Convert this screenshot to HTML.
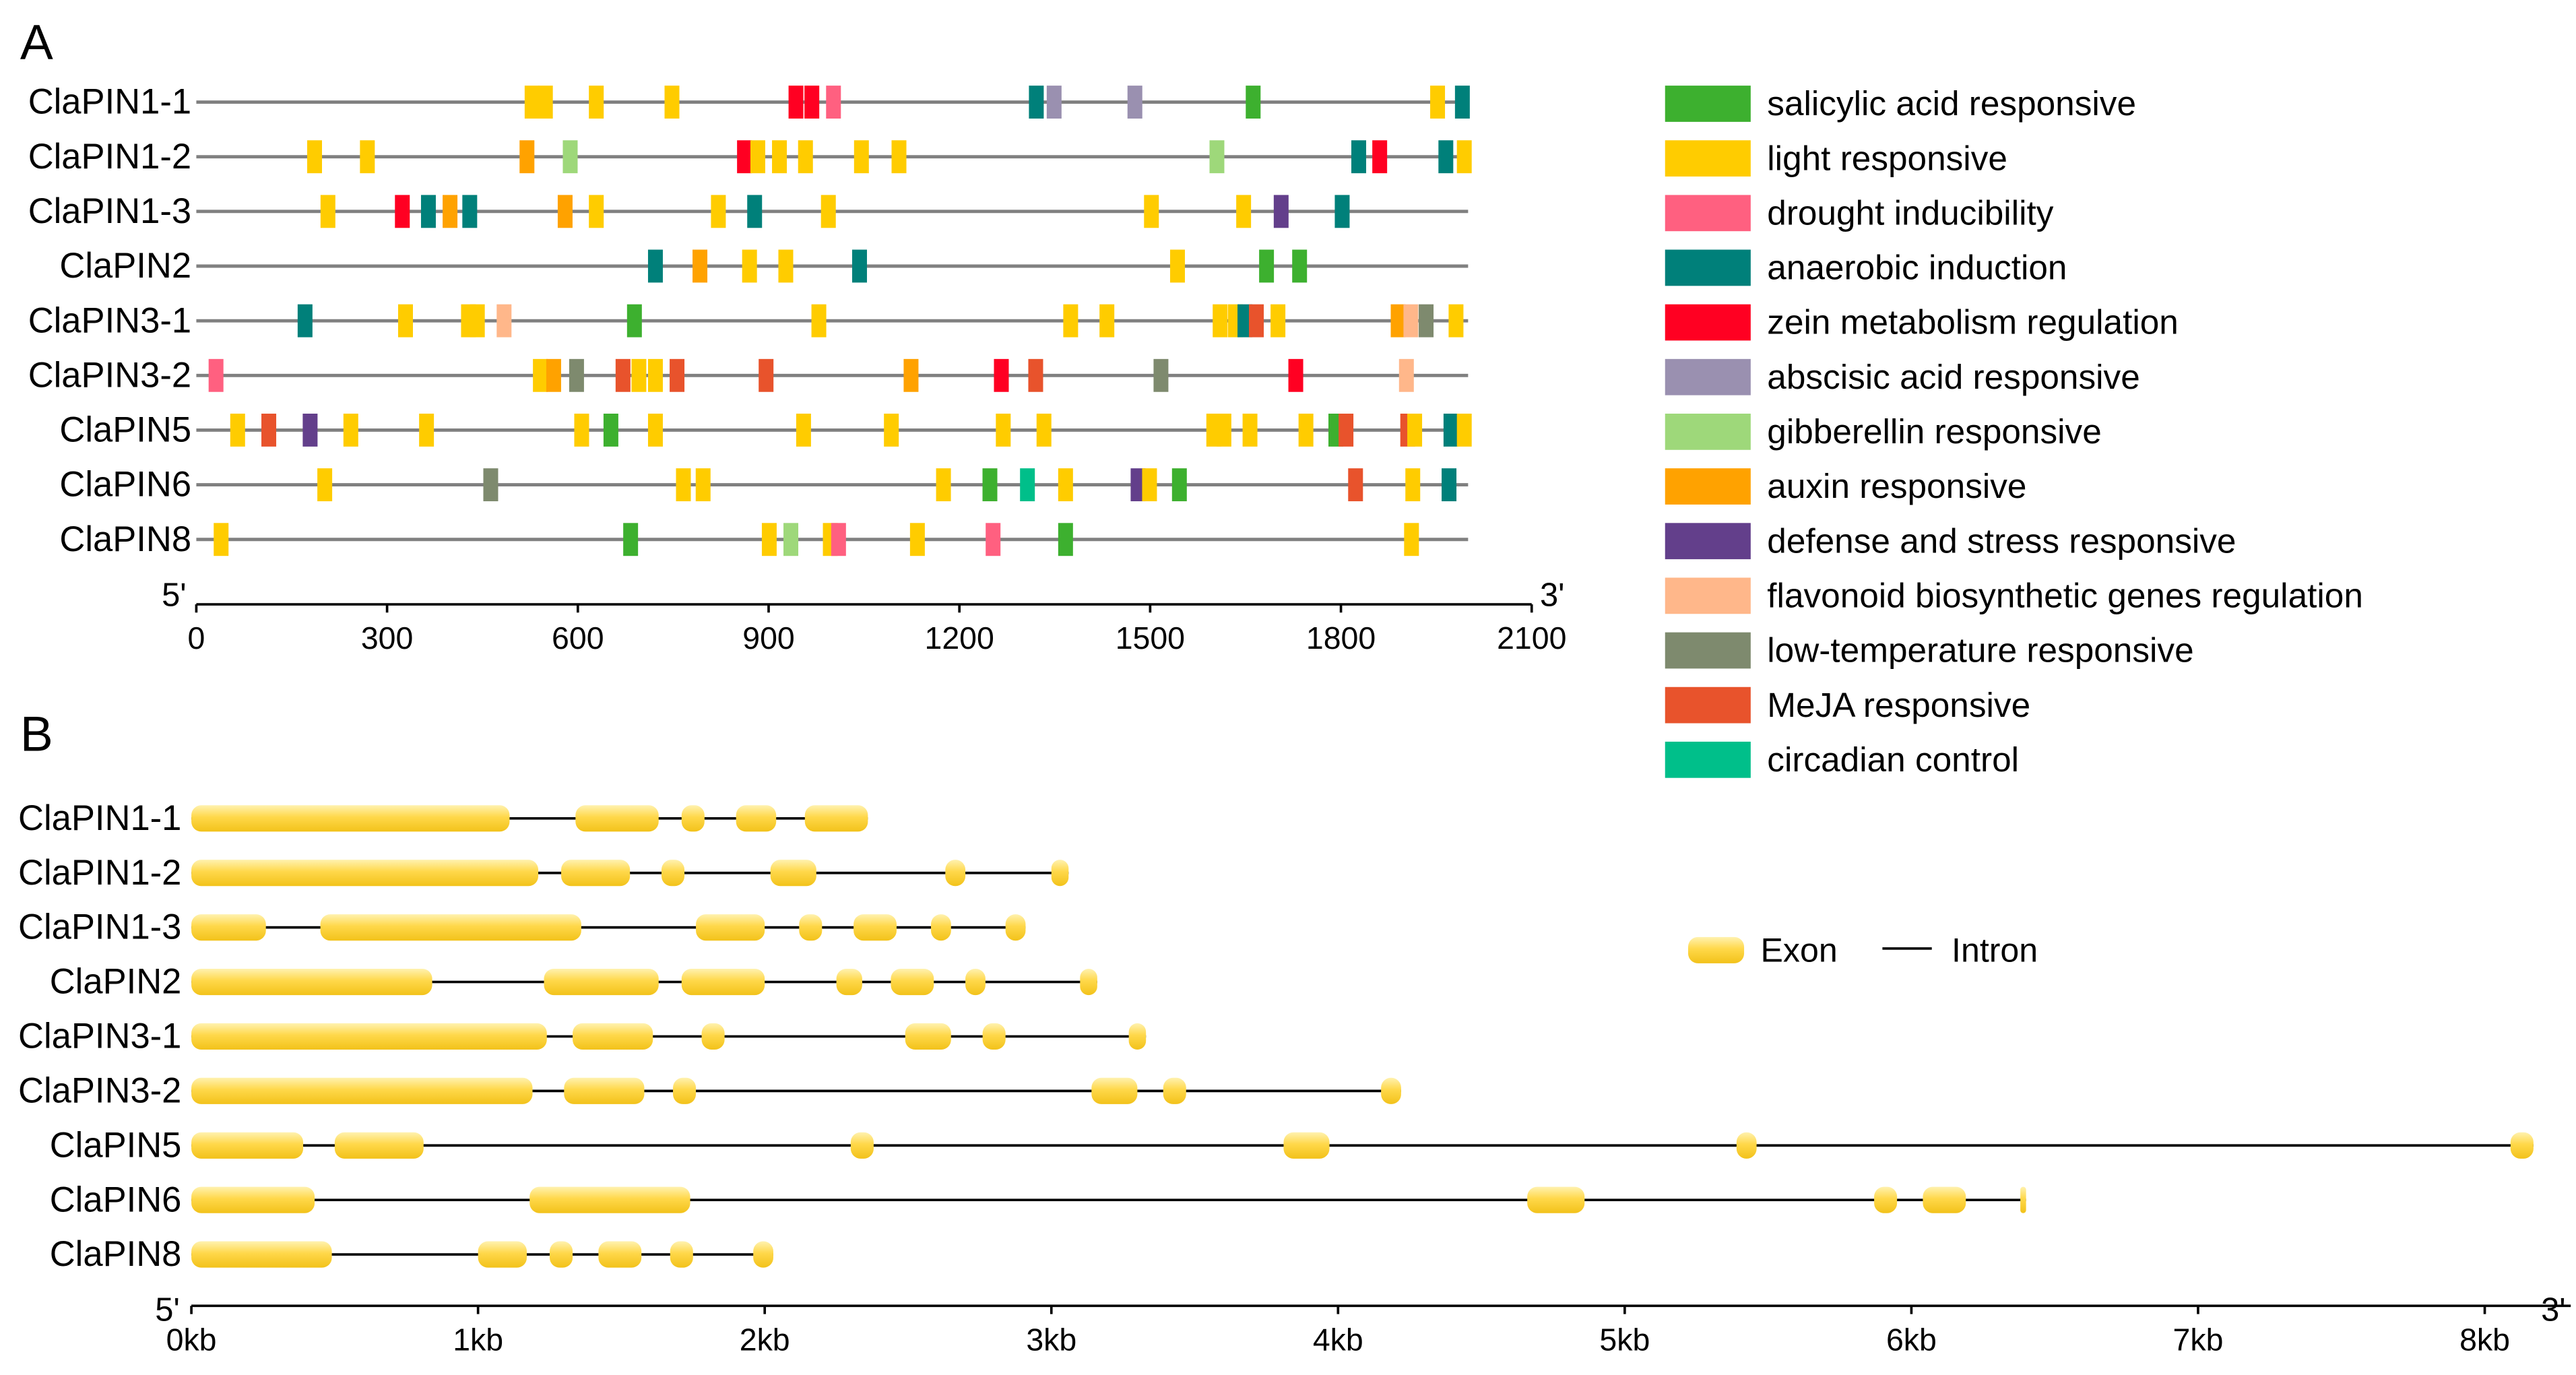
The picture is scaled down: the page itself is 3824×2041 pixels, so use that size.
<!DOCTYPE html>
<html><head><meta charset="utf-8"><style>
html,body{margin:0;padding:0;background:#fff;}
svg{display:block;font-family:"Liberation Sans",Arial,sans-serif;}
</style></head><body>
<svg id="chart" width="3824" height="2041" viewBox="0 0 1564 835" xmlns="http://www.w3.org/2000/svg">
<defs>
<linearGradient id="exg" x1="0" y1="0" x2="0" y2="1">
<stop offset="0" stop-color="#FFF2B0"/><stop offset="0.45" stop-color="#FFD84A"/><stop offset="1" stop-color="#F2C21A"/>
</linearGradient>
</defs>
<text x="12" y="36" font-size="30">A</text>
<text x="12" y="456" font-size="30">B</text>
<g id="gA"></g>
<g id="legA"></g>
<g id="gB"></g>
</svg>
<script>
const genes = ["ClaPIN1-1","ClaPIN1-2","ClaPIN1-3","ClaPIN2","ClaPIN3-1","ClaPIN3-2","ClaPIN5","ClaPIN6","ClaPIN8"];
const elementTypes = ["salicylic acid responsive","light responsive","drought inducibility","anaerobic induction","zein metabolism regulation","abscisic acid responsive","gibberellin responsive","auxin responsive","defense and stress responsive","flavonoid biosynthetic genes regulation","low-temperature responsive","MeJA responsive","circadian control"];
const elementColors = ["#3DB02F","#FFCC00","#FF6080","#00807A","#FF0022","#9A90B0","#9ED87A","#FFA200","#633F8B","#FFB78A","#7E8A6E","#E8532C","#00BF8A"];
// [position (bp), type index]
const motifs = [
 [[528,1],[549,1],[629,1],[748,1],[943,4],[968,4],[1002,2],[1321,3],[1349,5],[1476,5],[1662,0],[1952,1],[1991,3]],
 [[186,1],[269,1],[520,7],[588,6],[862,4],[883,1],[917,1],[958,1],[1046,1],[1105,1],[1605,6],[1828,3],[1861,4],[1965,3],[1994,1]],
 [[207,1],[324,4],[365,3],[399,7],[430,3],[580,7],[629,1],[821,1],[878,3],[994,1],[1502,1],[1647,1],[1706,8],[1802,3]],
 [[722,3],[792,7],[870,1],[927,1],[1043,3],[1543,1],[1683,0],[1735,0]],
 [[171,3],[329,1],[428,1],[442,1],[484,9],[689,0],[979,1],[1375,1],[1432,1],[1610,1],[1634,1],[1649,3],[1667,11],[1701,1],[1890,7],[1910,9],[1934,10],[1981,1]],
 [[31,2],[541,1],[562,7],[598,10],[671,11],[696,1],[722,1],[756,11],[896,11],[1124,7],[1266,4],[1320,11],[1517,10],[1729,4],[1903,9]],
 [[65,1],[114,11],[179,8],[243,1],[362,1],[606,1],[652,0],[722,1],[955,1],[1093,1],[1269,1],[1333,1],[1600,1],[1616,1],[1657,1],[1745,1],[1792,0],[1808,11],[1905,11],[1916,1],[1973,3],[1994,1]],
 [[202,1],[463,10],[766,1],[797,1],[1175,1],[1248,0],[1307,12],[1367,1],[1481,8],[1499,1],[1546,0],[1823,11],[1913,1],[1970,3]],
 [[39,1],[683,0],[901,1],[935,6],[997,1],[1010,2],[1134,1],[1253,2],[1367,0],[1911,1]]
];
const ticksA = [0,300,600,900,1200,1500,1800,2100];
// exons per gene in kb [start,end]
const exons = [
 [[0,1.11],[1.34,1.63],[1.71,1.79],[1.90,2.04],[2.14,2.36]],
 [[0,1.21],[1.29,1.53],[1.64,1.72],[2.02,2.18],[2.63,2.70],[3.00,3.06]],
 [[0,0.26],[0.45,1.36],[1.76,2.00],[2.12,2.20],[2.31,2.46],[2.58,2.65],[2.84,2.91]],
 [[0,0.84],[1.23,1.63],[1.71,2.00],[2.25,2.34],[2.44,2.59],[2.70,2.77],[3.10,3.16]],
 [[0,1.24],[1.33,1.61],[1.78,1.86],[2.49,2.65],[2.76,2.84],[3.27,3.33]],
 [[0,1.19],[1.30,1.58],[1.68,1.76],[3.14,3.30],[3.39,3.47],[4.15,4.22]],
 [[0,0.39],[0.50,0.81],[2.30,2.38],[3.81,3.97],[5.39,5.46],[8.09,8.17]],
 [[0,0.43],[1.18,1.74],[4.66,4.86],[5.87,5.95],[6.04,6.19],[6.38,6.40]],
 [[0,0.49],[1.00,1.17],[1.25,1.33],[1.42,1.57],[1.67,1.75],[1.96,2.03]]
];
const ticksB = [0,1,2,3,4,5,6,7,8];

const NS="http://www.w3.org/2000/svg";
function mk(tag,attrs,parent,text){const e=document.createElementNS(NS,tag);for(const k in attrs)e.setAttribute(k,attrs[k]);if(text!==undefined)e.textContent=text;parent.appendChild(e);return e;}
const xA = v => 119 + v*(930-119)/2100;
const rowA = i => 62 + i*33.2;
const xB = v => 116 + v*174.1;
const rowB = i => 497 + i*33.1;

const gA=document.getElementById('gA');
genes.forEach((g,i)=>{
  const y=rowA(i);
  const lab=mk('text',{x:116,y:y+7,'font-size':21.5,'text-anchor':'end'},gA,g);
  
  
  const ln=mk('line',{x1:xA(0),x2:xA(2000),y1:y,y2:y,stroke:'#808080','stroke-width':2},gA);
  
  
  motifs[i].forEach(m=>{
    const r=mk('rect',{x:xA(m[0])-4.5,y:y-10,width:9,height:20,fill:elementColors[m[1]]},gA);
    
    
  });
});
const axA=mk('line',{x1:xA(0),x2:xA(2100),y1:367,y2:367,stroke:'#000','stroke-width':1.5},gA);


ticksA.forEach(t=>{
  const tk=mk('line',{x1:xA(t),x2:xA(t),y1:367,y2:372,stroke:'#000','stroke-width':1.5},gA);
  
  
  const tl=mk('text',{x:xA(t),y:394,'font-size':19,'text-anchor':'middle'},gA,String(t));
  
  
});
let e=mk('text',{x:98,y:368,'font-size':20},gA,"5'");


e=mk('text',{x:935,y:368,'font-size':20},gA,"3'");



const legA=document.getElementById('legA');
elementTypes.forEach((t,i)=>{
  const y=63+i*33.2;
  const r=mk('rect',{x:1011,y:y-11,width:52,height:22,fill:elementColors[i]},legA);
  
  
  const tx=mk('text',{x:1073,y:y+7,'font-size':21},legA,t);
  
  
});

const gB=document.getElementById('gB');
genes.forEach((g,i)=>{
  const y=rowB(i);
  const lab=mk('text',{x:110,y:y+7,'font-size':21.5,'text-anchor':'end'},gB,g);
  
  
  const ex=exons[i];
  const ln=mk('line',{x1:xB(0),x2:xB(ex[ex.length-1][1]),y1:y,y2:y,stroke:'#000','stroke-width':1.5},gB);
  
  
  ex.forEach(x=>{
    const w=Math.max(3,xB(x[1])-xB(x[0]));
    const r=mk('rect',{x:xB(x[0]),y:y-8,width:w,height:16,rx:Math.min(6,w/2),fill:'url(#exg)'},gB);
    
    
  });
});
const axB=mk('line',{x1:xB(0),x2:xB(8.3),y1:793,y2:793,stroke:'#000','stroke-width':1.5},gB);


ticksB.forEach(t=>{
  const tk=mk('line',{x1:xB(t),x2:xB(t),y1:793,y2:798,stroke:'#000','stroke-width':1.5},gB);
  
  
  const tl=mk('text',{x:xB(t),y:820,'font-size':19,'text-anchor':'middle'},gB,t+'kb');
  
  
});
e=mk('text',{x:94,y:802,'font-size':20},gB,"5'");


e=mk('text',{x:1543,y:802,'font-size':20},gB,"3'");


e=mk('rect',{x:1025,y:569,width:34,height:16,rx:6,fill:'url(#exg)'},gB);


e=mk('text',{x:1069,y:584,'font-size':20.5},gB,'Exon');


e=mk('line',{x1:1143,x2:1173,y1:576,y2:576,stroke:'#000','stroke-width':1.5},gB);


e=mk('text',{x:1185,y:584,'font-size':20.5},gB,'Intron');


</script>
</body></html>
